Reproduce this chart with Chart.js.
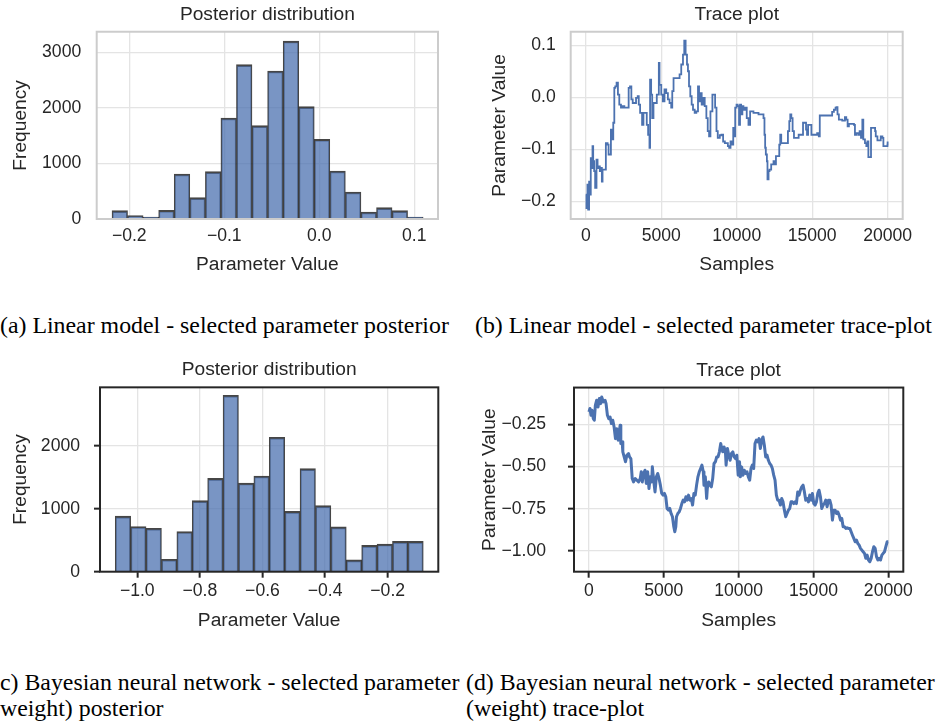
<!DOCTYPE html>
<html>
<head>
<meta charset="utf-8">
<script src="https://cdn.jsdelivr.net/npm/chart.js@4.4.1/dist/chart.umd.min.js"></script>
<style>
  html, body { margin: 0; padding: 0; background: #ffffff; }
  #fig { position: relative; width: 936px; height: 723px; overflow: hidden; background: #ffffff; }
  #fig canvas { position: absolute; }
  .cap { position: absolute; font-family: "Liberation Serif", "Times New Roman", serif; font-size: 23.85px;
         line-height: 26px; color: #000; white-space: nowrap; }
</style>
</head>
<body>
<div id="fig">
  <canvas id="panelA" width="460" height="290" style="left:0px;top:0px"></canvas>
  <canvas id="panelB" width="466" height="290" style="left:470px;top:0px"></canvas>
  <canvas id="panelC" width="460" height="295" style="left:0px;top:355px"></canvas>
  <canvas id="panelD" width="466" height="295" style="left:470px;top:355px"></canvas>

  <div class="cap" style="left:0px;top:312px">(a) Linear model - selected parameter posterior</div>
  <div class="cap" style="left:475px;top:312px">(b) Linear model - selected parameter trace-plot</div>
  <div class="cap" style="left:-8px;top:669px">(c) Bayesian neural network - selected parameter<br>(weight) posterior</div>
  <div class="cap" style="left:466px;top:669px">(d) Bayesian neural network - selected parameter<br>(weight) trace-plot</div>
</div>

<script>
// ---- Linear model: histogram of the selected parameter ----
const binEdgesLinear = [-0.2182, -0.2018, -0.1854, -0.1691, -0.1527, -0.1363, -0.1199, -0.1035, -0.0872, -0.0708,
                        -0.0544, -0.0380, -0.0216, -0.0053, 0.0111, 0.0275, 0.0439, 0.0603, 0.0766, 0.0930, 0.1094];
const countsLinear = [150, 60, 36, 156, 811, 384, 853, 1820, 2781, 1682,
                      2667, 3207, 2024, 1435, 865, 486, 126, 204, 150, 36];

// ---- Linear model: MCMC trace ----
const samplesLinear = [
  0, 45, 110, 155, 220, 290, 330, 400, 445, 490,
  555, 620, 710, 780, 845, 930, 1000, 1065, 1110, 1290,
  1330, 1445, 1510, 1600, 1665, 1730, 1820, 1890, 1955, 2040,
  2130, 2220, 2330, 2440, 2555, 2710, 2840, 2930, 3020, 3110,
  3220, 3330, 3440, 3510, 3600, 3730, 3820, 3950, 4040, 4130,
  4220, 4260, 4330, 4400, 4485, 4620, 4705, 4840, 4885, 5000,
  5105, 5215, 5330, 5440, 5550, 5660, 5730, 5815, 5950, 6105,
  6215, 6325, 6440, 6525, 6615, 6705, 6770, 6840, 6925, 7015,
  7105, 7215, 7325, 7435, 7505, 7590, 7680, 7770, 7880, 7990,
  8080, 8170, 8260, 8390, 8480, 8570, 8660, 8745, 8880, 8990,
  9100, 9215, 9325, 9415, 9500, 9590, 9680, 9770, 9835, 9900,
  9990, 10065, 10155, 10220, 10290, 10375, 10445, 10555, 10665, 10780,
  10890, 11110, 11445, 11775, 11840, 11885, 11930, 12000, 12040, 12110,
  12175, 12285, 12440, 12510, 12600, 12730, 12820, 12885, 12950, 13220,
  13330, 13395, 13485, 13550, 13620, 13705, 13795, 14105, 14330, 14395,
  14485, 14595, 14660, 14730, 14885, 14950, 15220, 15330, 15440, 15505,
  16215, 16325, 16440, 16550, 16615, 16680, 16770, 16995, 17105, 17170,
  17260, 17350, 17435, 17770, 17835, 17925, 18060, 18145, 18235, 18325,
  18390, 18500, 18590, 18660, 18725, 18860, 18900, 19170, 19215, 19325,
  19480, 19545, 19655, 19720, 19990, 20000
];
const valuesLinear = [
  -0.187, -0.213, -0.168, -0.216, -0.162, -0.187, -0.117, -0.136, -0.094, -0.123,
  -0.142, -0.174, -0.120, -0.136, -0.133, -0.142, -0.136, -0.162, -0.139, -0.139,
  -0.088, -0.091, -0.110, -0.110, -0.062, -0.081, -0.049, 0.018, 0.021, 0.028,
  0.005, -0.014, -0.020, -0.017, -0.020, -0.020, 0.018, 0.021, -0.004, -0.011,
  -0.011, -0.001, 0.002, -0.014, -0.030, -0.053, -0.030, -0.030, -0.053, -0.072,
  -0.097, 0.034, 0.005, -0.040, -0.011, -0.011, 0.005, 0.066, 0.024, 0.005,
  -0.008, 0.015, 0.008, -0.004, -0.011, -0.020, 0.012, 0.037, 0.037, 0.037,
  0.044, 0.063, 0.082, 0.109, 0.082, 0.063, 0.050, 0.021, 0.002, -0.014,
  -0.024, -0.030, -0.027, 0.021, -0.008, 0.008, -0.014, -0.001, -0.017, -0.040,
  -0.065, -0.075, -0.027, 0.005, 0.005, -0.020, -0.065, -0.078, -0.073, -0.072,
  -0.085, -0.088, -0.088, -0.094, -0.097, -0.085, -0.091, -0.059, -0.075, -0.020,
  -0.014, -0.017, -0.053, -0.014, -0.033, -0.017, -0.024, -0.020, -0.040, -0.053,
  -0.027, -0.030, -0.033, -0.040, -0.072, -0.097, -0.110, -0.123, -0.158, -0.142,
  -0.139, -0.129, -0.123, -0.129, -0.113, -0.113, -0.091, -0.072, -0.088, -0.088,
  -0.088, -0.065, -0.046, -0.033, -0.040, -0.065, -0.078, -0.072, -0.072, -0.049,
  -0.049, -0.062, -0.072, -0.053, -0.053, -0.072, -0.072, -0.069, -0.075, -0.035,
  -0.035, -0.028, -0.024, -0.020, -0.019, -0.033, -0.043, -0.045, -0.045, -0.038,
  -0.043, -0.056, -0.051, -0.053, -0.072, -0.069, -0.072, -0.065, -0.078, -0.043,
  -0.081, -0.088, -0.094, -0.085, -0.115, -0.115, -0.059, -0.065, -0.075, -0.083,
  -0.083, -0.075, -0.078, -0.094, -0.091, -0.085
];

// ---- Bayesian neural network: histogram of the selected weight ----
const binEdgesBnn = [-1.0703, -1.0211, -0.9719, -0.9227, -0.8735, -0.8243, -0.7751, -0.7259, -0.6767, -0.6275,
                     -0.5783, -0.5291, -0.4799, -0.4307, -0.3815, -0.3323, -0.2831, -0.2339, -0.1847, -0.1355, -0.0863];
const countsBnn = [882, 717, 690, 198, 636, 1128, 1481, 2802, 1406, 1519,
                   2134, 957, 1636, 1048, 711, 187, 417, 438, 481, 481];

// ---- Bayesian neural network: MCMC trace ----
const samplesBnn = [
  0, 67, 134, 202, 291, 358, 426, 515, 605, 694,
  784, 851, 963, 1075, 1142, 1232, 1322, 1411, 1501, 1590,
  1680, 1770, 1859, 1949, 2038, 2083, 2128, 2218, 2262, 2352,
  2442, 2531, 2643, 2710, 2800, 2890, 2979, 3091, 3203, 3315,
  3427, 3494, 3562, 3651, 3741, 3830, 3920, 4010, 4099, 4189,
  4234, 4323, 4413, 4502, 4592, 4682, 4771, 4861, 4950, 5040,
  5130, 5219, 5309, 5398, 5488, 5578, 5667, 5734, 5802, 5846,
  5936, 6026, 6115, 6205, 6294, 6384, 6474, 6563, 6653, 6742,
  6832, 6922, 7011, 7101, 7190, 7280, 7370, 7459, 7549, 7638,
  7683, 7773, 7862, 7907, 7997, 8086, 8176, 8266, 8355, 8445,
  8534, 8624, 8714, 8803, 8848, 8938, 9027, 9117, 9162, 9251,
  9341, 9430, 9520, 9610, 9699, 9789, 9878, 9968, 10058, 10112,
  10201, 10290, 10379, 10468, 10558, 10647, 10736, 10825, 10914, 11004,
  11093, 11182, 11271, 11360, 11450, 11539, 11628, 11717, 11806, 11896,
  11985, 12074, 12163, 12252, 12342, 12431, 12520, 12609, 12698, 12788,
  12877, 12966, 13055, 13144, 13234, 13323, 13412, 13501, 13590, 13680,
  13769, 13858, 13947, 14036, 14126, 14215, 14304, 14393, 14482, 14572,
  14661, 14750, 14839, 14928, 15018, 15107, 15196, 15285, 15374, 15464,
  15553, 15642, 15731, 15820, 15910, 15999, 16088, 16177, 16266, 16356,
  16445, 16534, 16623, 16712, 16802, 16891, 16980, 17069, 17158, 17248,
  17337, 17426, 17515, 17604, 17694, 17783, 17872, 17961, 18050, 18140,
  18229, 18318, 18407, 18496, 18586, 18675, 18764, 18853, 18942, 19032,
  19121, 19210, 19299, 19388, 19478, 19567, 19656, 19745, 19834, 19924, 20000
];
const valuesBnn = [
  -0.177, -0.157, -0.197, -0.167, -0.217, -0.226, -0.138, -0.108, -0.148, -0.098,
  -0.128, -0.089, -0.118, -0.108, -0.128, -0.197, -0.217, -0.207, -0.246, -0.226,
  -0.266, -0.335, -0.276, -0.344, -0.285, -0.256, -0.364, -0.354, -0.413, -0.443,
  -0.472, -0.433, -0.423, -0.443, -0.453, -0.571, -0.591, -0.571, -0.581, -0.591,
  -0.571, -0.531, -0.591, -0.541, -0.522, -0.600, -0.531, -0.630, -0.561, -0.591,
  -0.502, -0.581, -0.650, -0.561, -0.541, -0.571, -0.610, -0.659, -0.669, -0.659,
  -0.679, -0.748, -0.758, -0.748, -0.778, -0.797, -0.856, -0.886, -0.856, -0.797,
  -0.778, -0.768, -0.748, -0.719, -0.699, -0.709, -0.679, -0.699, -0.669, -0.699,
  -0.689, -0.728, -0.659, -0.669, -0.610, -0.561, -0.531, -0.512, -0.492, -0.531,
  -0.610, -0.561, -0.689, -0.630, -0.591, -0.610, -0.620, -0.571, -0.482, -0.472,
  -0.443, -0.443, -0.413, -0.364, -0.384, -0.413, -0.384, -0.413, -0.492, -0.394,
  -0.433, -0.463, -0.423, -0.413, -0.443, -0.453, -0.433, -0.551, -0.472, -0.561,
  -0.502, -0.551, -0.522, -0.541, -0.531, -0.561, -0.581, -0.512, -0.492, -0.512,
  -0.364, -0.344, -0.354, -0.335, -0.394, -0.344, -0.325, -0.374, -0.443, -0.433,
  -0.463, -0.482, -0.492, -0.512, -0.551, -0.581, -0.669, -0.699, -0.699, -0.728,
  -0.689, -0.709, -0.758, -0.797, -0.778, -0.758, -0.748, -0.709, -0.709, -0.719,
  -0.709, -0.719, -0.650, -0.669, -0.640, -0.620, -0.610, -0.650, -0.699, -0.689,
  -0.709, -0.669, -0.699, -0.659, -0.719, -0.728, -0.709, -0.659, -0.640, -0.679,
  -0.748, -0.728, -0.719, -0.699, -0.738, -0.699, -0.699, -0.728, -0.817, -0.758,
  -0.758, -0.778, -0.768, -0.787, -0.817, -0.807, -0.856, -0.856, -0.866, -0.862,
  -0.866, -0.866, -0.886, -0.906, -0.925, -0.945, -0.935, -0.955, -0.965, -0.984,
  -0.994, -1.004, -1.014, -1.043, -1.024, -1.053, -1.063, -1.043, -1.004, -0.974,
  -0.984, -1.033, -1.053, -1.043, -1.053, -1.024, -1.014, -1.004, -0.974, -0.945, -0.945
];

// ---- Tick positions ----
const xTicksLinearHist = [-0.2, -0.1, 0.0, 0.1];
const yTicksLinearHist = [0, 1000, 2000, 3000];
const xTicksBnnHist = [-1.0, -0.8, -0.6, -0.4, -0.2];
const yTicksBnnHist = [0, 1000, 2000];
const xTicksTrace = [0, 5000, 10000, 15000, 20000];
const yTicksLinearTrace = [-0.2, -0.1, 0.0, 0.1];
const yTicksBnnTrace = [-1.0, -0.75, -0.5, -0.25];

// ---- Styling ----
const FONT = '"Liberation Sans", Arial, Helvetica, sans-serif';
const INK = '#262626';
const GRID = '#e4e4e4';
const BLUE = '#4c72b0';
const BAR_FILL = 'rgba(76,114,176,0.75)';
const BAR_EDGE = 'rgba(38,38,38,0.85)';
const TICK_FONT = { family: FONT, size: 17.6 };
const LABEL_FONT = { family: FONT, size: 19.2, weight: 'normal' };

Chart.defaults.font.family = FONT;
Chart.defaults.color = INK;

// numbers with a typographic minus sign
function fmt(v, decimals) {
  const s = Math.abs(v).toFixed(decimals);
  return (v < -1e-9 ? '\u2212' : '') + s;
}

// axes box drawn over the data, like plot spines
const framePlugin = {
  id: 'frame',
  afterDatasetsDraw(chart, args, opts) {
    const { ctx, chartArea: a } = chart;
    ctx.save();
    ctx.strokeStyle = opts.color;
    ctx.lineWidth = opts.width;
    ctx.strokeRect(a.left, a.top, a.right - a.left, a.bottom - a.top);
    ctx.restore();
  }
};

function histData(edges, counts) {
  return counts.map((c, i) => ({ x: (edges[i] + edges[i + 1]) / 2, y: c }));
}
function traceData(xs, ys) {
  return xs.map((x, i) => ({ x: x, y: ys[i] }));
}

function buildChart(id, o) {
  const dark = o.dark;
  return new Chart(document.getElementById(id), {
    type: o.type,
    data: { datasets: o.datasets },
    options: {
      responsive: false,
      animation: false,
      devicePixelRatio: 1,
      events: [],
      layout: { padding: { left: 0, top: 0, bottom: 0, right: o.padRight } },
      plugins: {
        legend: { display: false },
        tooltip: { enabled: false },
        title: { display: true, text: o.title, fullSize: false, color: INK, font: LABEL_FONT, padding: o.titlePad },
        frame: { color: dark ? '#262626' : '#cccccc', width: 2 }
      },
      scales: {
        x: {
          type: 'linear', min: o.xMin, max: o.xMax, offset: false, bounds: 'data',
          afterBuildTicks: s => { s.ticks = o.xTicks.map(v => ({ value: v })); },
          afterFit: s => { s.height = o.xHeight; },
          grid: { color: GRID, lineWidth: 1.3, offset: false, drawTicks: dark, tickLength: 6, tickColor: INK, tickWidth: 2 },
          border: { display: false },
          ticks: { font: TICK_FONT, color: INK, padding: o.xTickPad, autoSkip: false, maxRotation: 0, minRotation: 0,
                   callback: v => fmt(v, o.xDec) },
          title: { display: true, text: o.xLabel, font: LABEL_FONT, color: INK, padding: { top: 0, bottom: o.xTitlePad } }
        },
        y: {
          type: 'linear', min: o.yMin, max: o.yMax, bounds: 'data',
          afterBuildTicks: s => { s.ticks = o.yTicks.map(v => ({ value: v })); },
          afterFit: s => { s.width = o.yWidth; },
          grid: { color: GRID, lineWidth: 1.3, drawTicks: dark, tickLength: 6, tickColor: INK, tickWidth: 2 },
          border: { display: false },
          ticks: { font: TICK_FONT, color: INK, padding: o.yTickPad, autoSkip: false,
                   callback: v => fmt(v, o.yDec) },
          title: { display: true, text: o.yLabel, font: LABEL_FONT, color: INK, padding: { top: o.yTitlePad, bottom: 0 } }
        }
      }
    },
    plugins: [framePlugin]
  });
}

function barSet(edges, counts) {
  return {
    data: histData(edges, counts),
    backgroundColor: BAR_FILL,
    borderColor: BAR_EDGE,
    borderWidth: { left: 1.2, right: 1.2, top: 1.9, bottom: 0 },
    borderSkipped: false,
    barPercentage: 1,
    categoryPercentage: 1,
    grouped: false
  };
}

// (a) linear model posterior
buildChart('panelA', {
  type: 'bar', dark: false, title: 'Posterior distribution',
  datasets: [barSet(binEdgesLinear, countsLinear)],
  padRight: 22, titlePad: { top: 3, bottom: 5.7 },
  xMin: -0.2343, xMax: 0.125, xTicks: xTicksLinearHist, xDec: 1, xHeight: 71, xTickPad: 6.6,
  xLabel: 'Parameter Value', xTitlePad: 13.5,
  yMin: 0, yMax: 3375, yTicks: yTicksLinearHist, yDec: 0, yWidth: 96.7, yTickPad: 15.5,
  yLabel: 'Frequency', yTitlePad: 9.5
});

// (b) linear model trace
buildChart('panelB', {
  type: 'line', dark: false, title: 'Trace plot',
  datasets: [{
    data: traceData(samplesLinear, valuesLinear),
    borderColor: BLUE, borderWidth: 1.8, pointRadius: 0, tension: 0, stepped: true, fill: false
  }],
  padRight: 33.3, titlePad: { top: 3, bottom: 5.7 },
  xMin: -1000, xMax: 21000, xTicks: xTicksTrace, xDec: 0, xHeight: 71, xTickPad: 6.6,
  xLabel: 'Samples', xTitlePad: 13.5,
  yMin: -0.234, yMax: 0.126, yTicks: yTicksLinearTrace, yDec: 1, yWidth: 100.7, yTickPad: 15,
  yLabel: 'Parameter Value', yTitlePad: 18.5
});

// (c) Bayesian neural network posterior
buildChart('panelC', {
  type: 'bar', dark: true, title: 'Posterior distribution',
  datasets: [barSet(binEdgesBnn, countsBnn)],
  padRight: 21.7, titlePad: { top: 3.5, bottom: 5.8 },
  xMin: -1.119, xMax: -0.0383, xTicks: xTicksBnnHist, xDec: 1, xHeight: 78.3, xTickPad: 3,
  xLabel: 'Parameter Value', xTitlePad: 17.5,
  yMin: 0, yMax: 2927, yTicks: yTicksBnnHist, yDec: 0, yWidth: 100, yTickPad: 14,
  yLabel: 'Frequency', yTitlePad: 9.5
});

// (d) Bayesian neural network trace
buildChart('panelD', {
  type: 'line', dark: true, title: 'Trace plot',
  datasets: [{
    data: traceData(samplesBnn, valuesBnn),
    borderColor: BLUE, borderWidth: 3, pointRadius: 0, tension: 0, fill: false, borderJoinStyle: 'round'
  }],
  padRight: 32.7, titlePad: { top: 3.5, bottom: 5.8 },
  xMin: -1000, xMax: 21000, xTicks: xTicksTrace, xDec: 0, xHeight: 78.3, xTickPad: 3,
  xLabel: 'Samples', xTitlePad: 17.5,
  yMin: -1.122, yMax: -0.033, yTicks: yTicksBnnTrace, yDec: 2, yWidth: 104, yTickPad: 22,
  yLabel: 'Parameter Value', yTitlePad: 7.7
});
</script>
</body>
</html>
